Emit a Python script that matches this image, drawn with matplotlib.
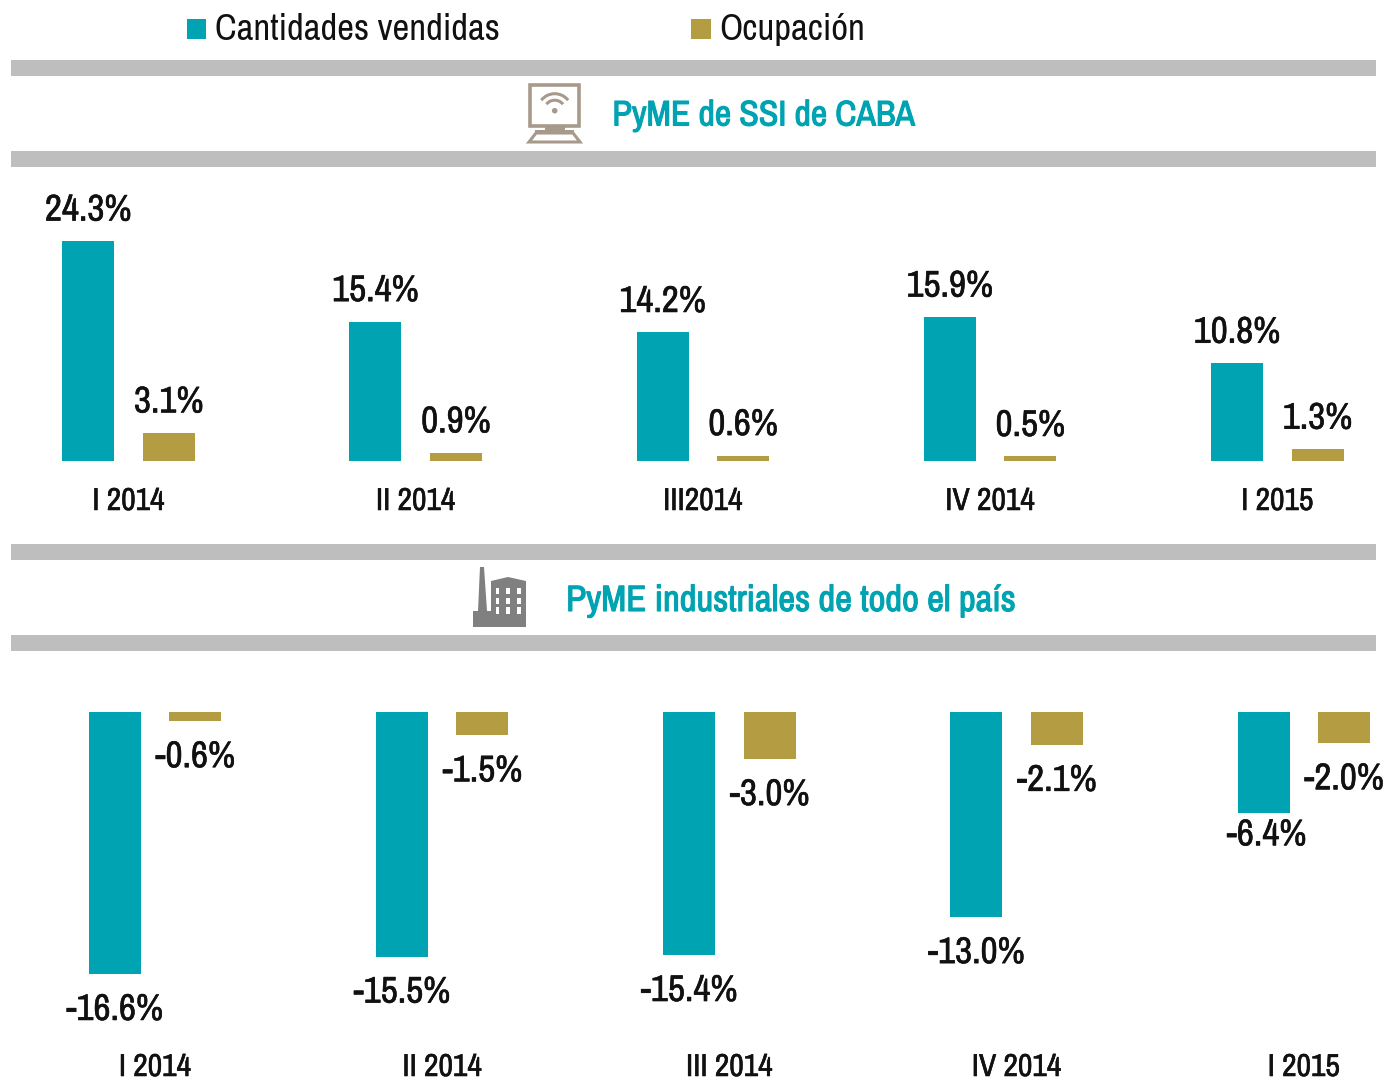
import numpy as np
import matplotlib
matplotlib.use("Agg")
import matplotlib.pyplot as plt
import matplotlib.patheffects as pe
from matplotlib.patches import Rectangle, Polygon, Circle, Arc

plt.rcParams['font.family'] = ['Archivo Narrow', 'Liberation Sans', 'DejaVu Sans']

TEAL = "#00a3b1"
GOLD = "#b39c42"
GREY = "#bebebe"
INK = "#111111"

W, H = 1384, 1081

series_names = ["Cantidades vendidas", "Ocupación"]
section_titles = ["PyME de SSI de CABA", "PyME industriales de todo el país"]

top_periods = ["I 2014", "II 2014", "III2014", "IV 2014", "I 2015"]
top_sales = [24.3, 15.4, 14.2, 15.9, 10.8]
top_jobs = [3.1, 0.9, 0.6, 0.5, 1.3]

bottom_periods = ["I 2014", "II 2014", "III 2014", "IV 2014", "I 2015"]
bottom_sales = [-16.6, -15.5, -15.4, -13.0, -6.4]
bottom_jobs = [-0.6, -1.5, -3.0, -2.1, -2.0]


def heavy(color, lw=0.4):
    # the variable font only gives its regular weight, so thicken it a bit
    return [pe.withStroke(linewidth=lw, foreground=color)]


def px_axes(fig, left, top, right, bottom):
    # axes placed with pixel coords measured from the top left
    return fig.add_axes([left / W, 1 - bottom / H, (right - left) / W, (bottom - top) / H])


def bar_panel(fig, top, bottom, zero_y, px_per_unit, center0, periods, sales, jobs):
    step = 287.2
    ax = px_axes(fig, 0, top, W, bottom)
    ax.patch.set_alpha(0)
    ax.set_xlim(-center0 / step, (W - center0) / step)
    ax.set_ylim((zero_y - bottom) / px_per_unit, (zero_y - top) / px_per_unit)
    x = np.arange(len(periods))
    off = 40.25 / step
    width = 52 / step
    ax.bar(x - off, sales, width, color=TEAL)
    ax.bar(x + off, jobs, width, color=GOLD)
    for i in x:
        for xx, v in ((i - off, sales[i]), (i + off, jobs[i])):
            dx = 0
            dy = 31 if v > 0 else -35.5
            # the short -6.4% bar has its label tucked closer in the original
            if v == -6.4:
                dx, dy = 3, -22
            ax.annotate(f"{v:.1f}%", (xx, v), xytext=(dx * 0.72, dy * 0.72), textcoords="offset points",
                        ha="center", va="center", fontsize=26.8, color=INK, path_effects=heavy(INK))
    ax.set_xticks(x)
    ax.set_xticklabels(periods, fontsize=22.8, color=INK, path_effects=heavy(INK))
    ax.tick_params(axis="x", length=0, pad=0)
    ax.set_yticks([])
    for s in ax.spines.values():
        s.set_visible(False)
    return ax


def draw_monitor(ax):
    c = "#a89a8a"
    ax.add_patch(Rectangle((530, 85), 49, 41, fc="white", ec=c, lw=2.6))
    ax.add_patch(Rectangle((545, 126), 20, 5, fc=c, ec="none"))
    ax.add_patch(Rectangle((535, 130), 39, 3, fc=c, ec="none"))
    ax.add_patch(Polygon([(536, 133), (573, 133), (580, 142), (529, 142)], closed=True, fc="white", ec=c, lw=2.2))
    ax.add_patch(Circle((554.7, 110.7), 2.8, fc=c, ec="none"))
    for d in (21, 34):
        ax.add_patch(Arc((554.7, 110.7), d, d, theta1=218, theta2=322, color=c, lw=2.2))


def draw_factory(ax):
    c = "#808080"
    ax.add_patch(Polygon([(473, 627), (473, 611), (478, 611), (480, 567), (484, 567), (487, 611),
                          (491, 611), (491, 581), (508, 577), (526, 581), (526, 627)],
                         closed=True, fc=c, ec="none"))
    for wx in (495.7, 506.3, 517):
        for wy in (587.7, 597.7, 607.3):
            ax.add_patch(Rectangle((wx, wy), 3.7, 6.6, fc="white", ec="none"))


fig = plt.figure(figsize=(W / 100, H / 100), dpi=100, facecolor="white")

# overlay in pixel coords for the header bands, legend and icons
deco = fig.add_axes([0, 0, 1, 1])
deco.set_xlim(0, W)
deco.set_ylim(H, 0)
deco.axis("off")

for y0 in (60, 151, 544, 635):
    deco.add_patch(Rectangle((11, y0), 1365, 16, fc=GREY, ec="none"))

deco.add_patch(Rectangle((187, 19), 19, 20, fc=TEAL, ec="none"))
deco.add_patch(Rectangle((691, 19), 20, 20, fc=GOLD, ec="none"))
deco.text(215, 29.5, series_names[0], fontsize=26.4, color=INK, va="center", ha="left")
deco.text(719, 30, series_names[1], fontsize=26.4, color=INK, va="center", ha="left")

deco.text(763.5, 115.5, section_titles[0], fontsize=25.7, color=TEAL, va="center", ha="center",
          path_effects=heavy(TEAL, 0.8))
deco.text(791.5, 600.5, section_titles[1], fontsize=26.4, color=TEAL, va="center", ha="center",
          path_effects=heavy(TEAL, 0.8))

draw_monitor(deco)
draw_factory(deco)

bar_panel(fig, 180, 487, 461, 9.05, 128.5, top_periods, top_sales, top_jobs)
bar_panel(fig, 660, 1053, 711.7, 15.8, 155, bottom_periods, bottom_sales, bottom_jobs)

fig.savefig("out.png", dpi=100)
